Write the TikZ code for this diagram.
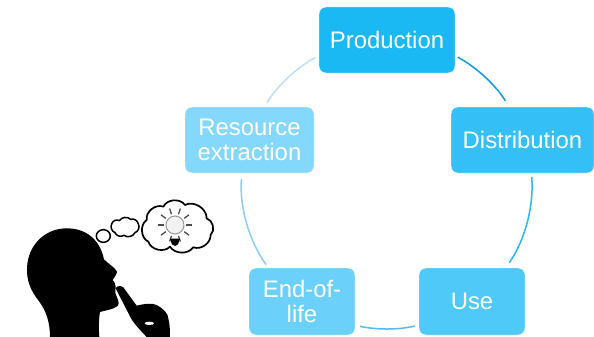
\documentclass[tikz,border=0pt]{standalone}
\usepackage{fontspec}
\setmainfont{Liberation Sans}
\definecolor{cprod}{HTML}{1BB9F3}
\definecolor{cdist}{HTML}{34BFF6}
\definecolor{cuse}{HTML}{4FC9F7}
\definecolor{cend}{HTML}{6BD0FA}
\definecolor{cres}{HTML}{84D8FB}
\definecolor{lprod}{HTML}{0C9BDD}
\definecolor{ldist}{HTML}{2DB5F6}
\definecolor{luse}{HTML}{55B9F2}
\definecolor{lend}{HTML}{8CCCF6}
\definecolor{lres}{HTML}{BFDFF8}
\tikzset{
  stage/.style={rounded corners=7pt,text=white,align=center,inner sep=0pt,
    font=\fontsize{23.9}{25}\selectfont,draw=white,line width=0.4pt},
  linkline/.style={line width=1.5pt},
  link/.style={bend left=#1,looseness=0.87},
  cloudline/.style={draw=black,line width=1.5pt,fill=white,line join=round}
}
\begin{document}
\begin{tikzpicture}[x=1pt,y=-1pt]
\useasboundingbox (0,0) rectangle (594,337);
% stages
\node[stage,fill=cprod,minimum width=136pt,minimum height=66pt] (prod) at (387,40) {Production};
\node[stage,fill=cdist,minimum width=143pt,minimum height=66pt] (dist) at (522.5,140) {Distribution};
\node[stage,fill=cuse,minimum width=106pt,minimum height=67pt] (use) at (472,301.5) {Use};
\node[stage,fill=cend,minimum width=106pt,minimum height=67pt] (eol) at (302,301.5) {End-of-\\life};
\node[stage,fill=cres,minimum width=129pt,minimum height=66pt] (res) at (249.5,140) {Resource\\extraction};
% connectors
\draw[linkline,lprod,shorten <=3pt,shorten >=7pt] (prod.-13.9) to[link=14.75] (dist.112.5);
\draw[linkline,ldist,shorten <=4pt,shorten >=6pt] (dist.-75.9) to[link=19.9] (use.45.9);
\draw[linkline,luse,shorten <=4pt,shorten >=5pt] (use.204.2) to[link=12.75] (eol.-24.4);
\draw[linkline,lend,shorten <=4pt,shorten >=6pt] (eol.135) to[link=19.9] (res.257.5);
\draw[linkline,lres,shorten <=5pt,shorten >=4pt] (res.66) to[link=14.85] (prod.193.5);
% thinker
\begin{scope}[shift={(0,190)},x=0.3333pt,y=-0.3333pt]
  \fill[black] (150,441) .. controls (150,400) and (140,365) .. (118,335)
    .. controls (90,300) and (80,270) .. (81,235)
    .. controls (83,165) and (135,115) .. (200,115)
    .. controls (260,115) and (300,150) .. (312,208)
    .. controls (325,222) and (345,232) .. (351,245)
    .. controls (350,258) and (340,262) .. (338,270)
    .. controls (345,278) and (347,285) .. (347,292)
    .. controls (345,305) and (345,312) .. (350,320)
    .. controls (358,335) and (358,345) .. (350,350)
    .. controls (335,360) and (312,362) .. (300,366)
    .. controls (296,390) and (296,420) .. (298,441) -- cycle;
  \fill[black] (347,295) .. controls (352,287) and (362,286) .. (370,292)
    -- (410,347)
    .. controls (430,342) and (455,338) .. (470,345)
    .. controls (490,355) and (505,372) .. (505,385)
    .. controls (510,405) and (510,425) .. (510,441)
    -- (440,441) .. controls (425,425) and (405,405) .. (393,385) -- cycle;
  \fill[white] (448,400) ellipse[x radius=14,y radius=5];
  \draw[cloudline] (310,138) circle[x radius=21,y radius=19];
  \draw[cloudline] (336,100) to[bend left=50] (358,92) to[bend left=50] (392,88)
    to[bend left=50] (415,102) to[bend left=50] (405,128) to[bend left=50] (372,136)
    to[bend left=50] (345,128) to[bend left=50] cycle;
  \draw[cloudline,line width=1.7pt] (440,90) to[bend left=60] (490,50) to[bend left=60] (555,45)
    to[bend left=60] (620,85) to[bend left=60] (632,135) to[bend left=55] (580,172)
    to[bend left=55] (510,170) to[bend left=60] (445,155) to[bend left=60] cycle;
  % bulb
  \foreach \a in {0,36,...,324}{
    \draw[black!70,line width=1.3pt] (525,105) ++(\a:34) -- ++(\a:18);
  }
  \draw[black!40,fill=black!5,line width=1pt] (525,105) circle[radius=27];
  \fill[black] (510,146) -- (540,146) -- (534,163) -- (525,168) -- (516,163) -- cycle;
\end{scope}
\end{tikzpicture}
\end{document}
